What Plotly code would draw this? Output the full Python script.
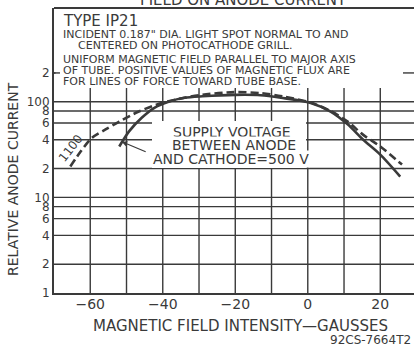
import plotly.graph_objects as go

# Relative anode current vs. magnetic field intensity (type 1P21 photomultiplier)
field_500v = [-52, -49.3, -45.8, -42.2, -38.4, -34, -29, -20, -13, -7.4, 0.8, 6.3, 11, 15.3, 20, 25.5]
current_500v = [34, 49, 68, 87, 100, 110, 114, 118, 117, 110, 97, 79, 58, 40, 28, 16.5]

field_1100v = [-65.5, -62.7, -59.5, -55.9, -52, -46.6, -40.3, -34, -29.3, -20.3, -12.9, -6.6, 0.8, 6.3, 11, 15.3, 20, 26]
current_1100v = [21, 30, 42, 51, 62, 79, 97, 110, 118, 126, 123, 113, 98, 80, 62, 45, 34, 22]

x_grid = [-60, -50, -40, -30, -20, -10, 0, 10, 20]
x_ticktext = ["\u221260", "", "\u221240", "", "\u221220", "", "0", "", "20"]
y_grid = [1, 2, 4, 6, 8, 10, 20, 40, 60, 80, 100, 200]
y_ticktext = ["1", "2", "4", "6", "8", "10", "2", "4", "6", "8", "100", "2"]

note_lines = [
    "INCIDENT 0.187\" DIA. LIGHT SPOT NORMAL TO AND",
    "CENTERED ON PHOTOCATHODE GRILL.",
    "UNIFORM MAGNETIC FIELD PARALLEL TO MAJOR AXIS",
    "OF TUBE. POSITIVE VALUES OF MAGNETIC FLUX ARE",
    "FOR LINES OF FORCE TOWARD TUBE BASE.",
]
voltage_lines = ["SUPPLY VOLTAGE", "BETWEEN ANODE", "AND CATHODE=500 V"]

INK = "#3a3a3a"
FONT = "DejaVu Sans"
W, H = 414, 347
ML, MR, MT, MB = 54, 0, 8, 54
PW, PH = W - ML - MR, H - MT - MB


def px(x):
    return (x - ML) / PW


def py(y):
    return (H - MB - y) / PH


fig = go.Figure()
fig.add_trace(go.Scatter(x=field_1100v, y=current_1100v, mode="lines",
                         line=dict(color=INK, width=2.6, dash="8px,4px", shape="spline", smoothing=0.8),
                         hoverinfo="skip", showlegend=False))
fig.add_trace(go.Scatter(x=field_500v, y=current_500v, mode="lines",
                         line=dict(color=INK, width=2.6, shape="spline", smoothing=0.8),
                         hoverinfo="skip", showlegend=False))

grid_line = dict(color=INK, width=1.4)
shapes = []
# chart grid, placed on the axes' own scales
for gx in x_grid:
    shapes.append(dict(type="line", xref="x", yref="paper", x0=gx, x1=gx, y0=0, y1=1,
                       line=grid_line, layer="below"))
for gy in y_grid[1:]:
    shapes.append(dict(type="line", xref="paper", yref="y", x0=0, x1=1, y0=gy, y1=gy,
                       line=grid_line, layer="below"))

shapes += [
    # text panel across the top of the grid
    dict(type="rect", xref="paper", yref="paper", x0=px(55.5), x1=1.0, y0=py(88), y1=py(9),
         fillcolor="white", line_width=0, layer="above"),
    # panel behind the supply-voltage note
    dict(type="rect", xref="paper", yref="paper", x0=px(152), x1=px(306), y0=py(168), y1=py(121),
         fillcolor="white", line_width=0, layer="above"),
    # top frame line
    dict(type="line", xref="paper", yref="paper", x0=0, x1=1, y0=1, y1=1,
         line=dict(color=INK, width=1.8), layer="above"),
    # short stubs of the 200 gridline
    dict(type="line", xref="paper", yref="y", x0=0, x1=px(60), y0=200, y1=200,
         line=grid_line, layer="above"),
    dict(type="line", xref="paper", yref="y", x0=px(403), x1=1, y0=200, y1=200,
         line=grid_line, layer="above"),
]

annotations = [
    dict(text="TYPE IP21", xref="paper", yref="paper", x=px(61), y=py(21), xanchor="left", yanchor="middle",
         showarrow=False, font=dict(family=FONT, size=15, color=INK)),
]
note_pos = [(61, 35), (76, 45.5), (61, 59), (61, 70), (61, 81)]
for t, (lx, ly) in zip(note_lines, note_pos):
    annotations.append(dict(text=t, xref="paper", yref="paper", x=px(lx), y=py(ly), xanchor="left",
                            yanchor="middle", showarrow=False, font=dict(family=FONT, size=11, color=INK)))

for t, (cx, cy) in zip(voltage_lines, [(231.5, 132), (233.5, 145), (231, 159)]):
    annotations.append(dict(text=t, xref="paper", yref="paper", x=px(cx), y=py(cy), xanchor="center",
                            yanchor="middle", showarrow=False, bgcolor="white", borderpad=0,
                            font=dict(family=FONT, size=14, color=INK)))

# leader from the note to the 500 V curve
annotations.append(dict(text="", x=-51.3, y=1.582, ax=-44.3, ay=1.47,
                        xref="x", yref="y", axref="x", ayref="y", showarrow=True,
                        arrowhead=2, arrowsize=0.9, arrowwidth=1.2, arrowcolor=INK))
# curve label for the 1100 V curve (log axis: position given in decades)
annotations.append(dict(text="1100", x=-65.4, y=1.52, xref="x", yref="y", showarrow=False,
                        textangle=-52, font=dict(family=FONT, size=12, color=INK)))

annotations += [
    dict(text="FIELD ON ANODE CURRENT", xref="paper", yref="paper", x=px(243), y=py(0),
         xanchor="center", yanchor="middle", showarrow=False, font=dict(family=FONT, size=15, color=INK)),
    dict(text="RELATIVE ANODE CURRENT", xref="paper", yref="paper", x=px(13), y=py(179),
         xanchor="center", yanchor="middle", textangle=-90, showarrow=False,
         font=dict(family=FONT, size=14, color=INK)),
    dict(text="MAGNETIC FIELD INTENSITY\u2014GAUSSES", xref="paper", yref="paper", x=px(240), y=py(326),
         xanchor="center", yanchor="middle", showarrow=False, font=dict(family=FONT, size=15, color=INK)),
    dict(text="92CS-7664T2", xref="paper", yref="paper", x=px(413), y=py(340),
         xanchor="right", yanchor="middle", showarrow=False, font=dict(family=FONT, size=12, color=INK)),
]

fig.update_layout(
    width=W, height=H, margin=dict(l=ML, r=MR, t=MT, b=MB),
    paper_bgcolor="white", plot_bgcolor="white",
    shapes=shapes, annotations=annotations,
    xaxis=dict(range=[-70, 29.3], tickvals=x_grid, ticktext=x_ticktext, showgrid=False,
               showline=True, linecolor=INK, linewidth=2, ticklabelstandoff=-3,
               zeroline=False, ticks="", tickfont=dict(family=FONT, size=14, color=INK)),
    yaxis=dict(type="log", range=[0, 2.98], tickvals=y_grid, ticktext=y_ticktext, showgrid=False,
               showline=True, linecolor=INK, linewidth=2,
               zeroline=False, ticks="", tickfont=dict(family=FONT, size=12, color=INK)),
)

fig.write_html("out.html")
